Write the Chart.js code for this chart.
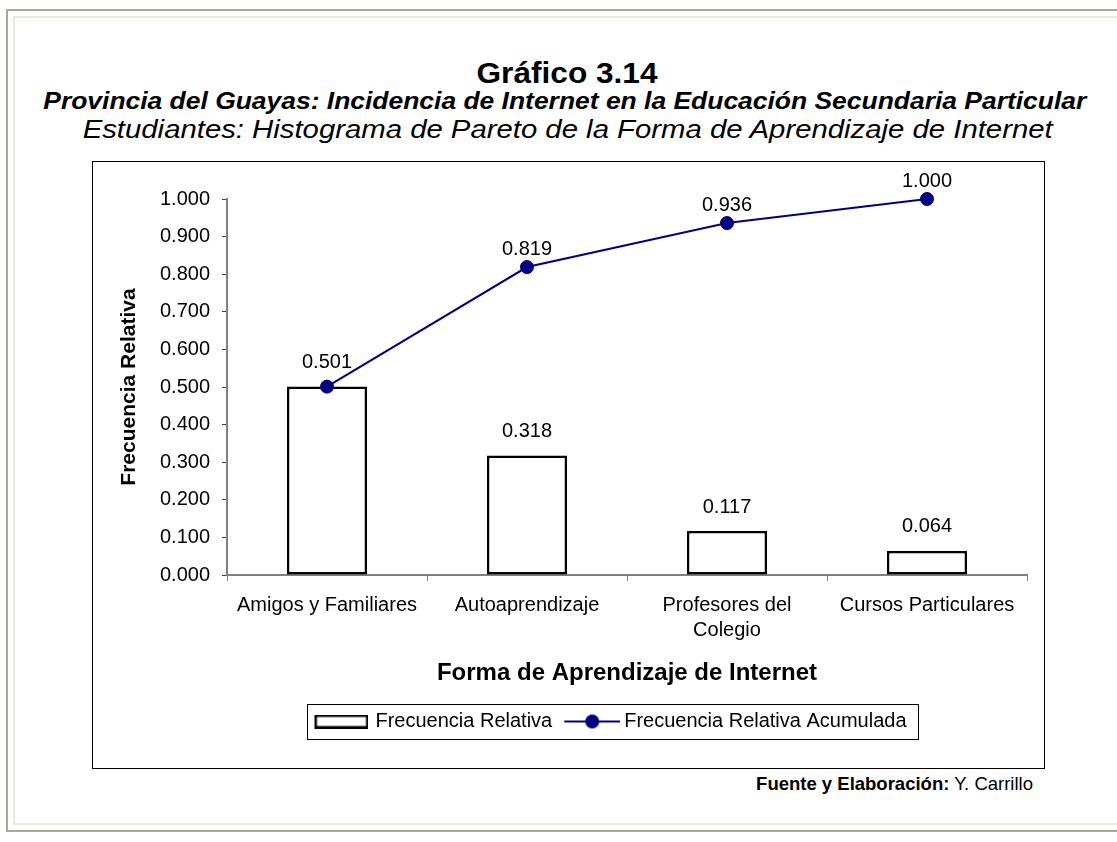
<!DOCTYPE html>
<html>
<head>
<meta charset="utf-8">
<script src="https://cdn.jsdelivr.net/npm/chart.js@4.4.1/dist/chart.umd.min.js"></script>
<style>
  body { margin: 0; width: 1117px; height: 842px; background: #fff; position: relative; overflow: hidden;
         font-family: "Liberation Sans", Arial, sans-serif; color: #000; }
  .frame-out { position: absolute; left: 6px; top: 9px; width: 1130px; height: 823px;
               border: 2px solid #aca899; border-right: none; box-sizing: border-box; }
  .frame-in { position: absolute; left: 13px; top: 16px; width: 1120px; height: 809px;
              border: 2px solid #ece9d8; border-right: none; box-sizing: border-box; }
  .ttl { position: absolute; white-space: nowrap; line-height: 1; transform-origin: center; }
  #t1 { font-size: 29px; font-weight: bold; top: 59px; }
  #t2 { font-size: 23px; font-weight: bold; font-style: italic; top: 90px; }
  #t3 { font-size: 25px; font-style: italic; top: 117px; }
  #box { position: absolute; left: 92px; top: 161px; width: 953px; height: 608px;
         border: 1px solid #000; box-sizing: border-box; background: #fff; }
  #chart { display: block; }
  #src { position: absolute; right: 84px; top: 775px; font-size: 18.5px; line-height: 1; white-space: nowrap; }
</style>
</head>
<body>
<div class="frame-out"></div>
<div class="frame-in"></div>
<span class="ttl" id="t1">Gráfico 3.14</span>
<span class="ttl" id="t2">Provincia del Guayas: Incidencia de Internet en la Educación Secundaria Particular</span>
<span class="ttl" id="t3">Estudiantes: Histograma de Pareto de la Forma de Aprendizaje de Internet</span>
<div id="box"><canvas id="chart" width="951" height="606"></canvas></div>
<div id="src"><b>Fuente y Elaboración:</b> Y. Carrillo</div>
<script>
// chart data
const categories = ['Amigos y Familiares', 'Autoaprendizaje', ['Profesores del', 'Colegio'], 'Cursos Particulares'];
const relFreq = [0.501, 0.318, 0.117, 0.064];
const cumFreq = [0.501, 0.819, 0.936, 1.000];
const yTickLabels = ['0.000', '0.100', '0.200', '0.300', '0.400', '0.500', '0.600', '0.700', '0.800', '0.900', '1.000'];

// fit the title lines to their width in the picture
function fitTitle(id, center, width) {
  const el = document.getElementById(id);
  const w = el.getBoundingClientRect().width;
  el.style.left = (center - w / 2) + 'px';
  el.style.transform = 'scaleX(' + (width / w) + ')';
}
fitTitle('t1', 567, 181);
fitTitle('t2', 565, 1043);
fitTitle('t3', 568, 970);

const FONT = '"Liberation Sans", Arial, sans-serif';
Chart.defaults.font.family = FONT;
Chart.defaults.color = '#000';

// legend swatches
const barSwatch = document.createElement('canvas');
barSwatch.width = 58; barSwatch.height = 14;
let c = barSwatch.getContext('2d');
c.strokeStyle = '#000'; c.lineWidth = 2.5;
c.strokeRect(5.25, 1.25, 51.5, 11.5);

const lineSwatch = document.createElement('canvas');
lineSwatch.width = 64; lineSwatch.height = 16;
c = lineSwatch.getContext('2d');
c.strokeStyle = '#000080'; c.lineWidth = 2;
c.beginPath(); c.moveTo(8, 8); c.lineTo(64, 8); c.stroke();
c.fillStyle = '#000080';
c.beginPath(); c.arc(36, 8, 7, 0, Math.PI * 2); c.fill();

// value labels over bars and points
const valueLabels = {
  id: 'valueLabels',
  afterDatasetsDraw(chart) {
    const ctx = chart.ctx;
    ctx.save();
    ctx.font = '20px ' + FONT;
    ctx.fillStyle = '#000';
    ctx.textAlign = 'center';
    ctx.textBaseline = 'middle';
    chart.getDatasetMeta(0).data.forEach((bar, i) => {
      ctx.fillText(relFreq[i].toFixed(3), bar.x, bar.y - 24);
    });
    chart.getDatasetMeta(1).data.forEach((pt, i) => {
      if (cumFreq[i] === relFreq[i]) return; // same spot as the bar label
      ctx.fillText(cumFreq[i].toFixed(3), pt.x, pt.y - 18);
    });
    ctx.restore();
  }
};

// move the legend under the plot and frame it
const legendBox = {
  id: 'legendBox',
  afterLayout(chart) {
    const lg = chart.legend;
    const h = lg.height;
    lg.left = 517 - 320;
    lg.right = 517 + 320;
    lg.top = 539.5;
    lg.bottom = lg.top + h;
  },
  afterDraw(chart) {
    const hb = chart.legend.legendHitBoxes;
    if (!hb.length) return;
    const last = hb[hb.length - 1];
    const x0 = Math.round(hb[0].left - 6) + 0.5;
    const x1 = Math.round(last.left + last.width + 11) + 0.5;
    const y0 = Math.round(hb[0].top - 7.5) + 0.5;
    const y1 = Math.round(hb[0].top + hb[0].height + 7.5) + 0.5;
    const ctx = chart.ctx;
    ctx.save();
    ctx.strokeStyle = '#000';
    ctx.lineWidth = 1;
    ctx.strokeRect(x0, y0, x1 - x0, y1 - y0);
    ctx.restore();
  }
};

const chart = new Chart(document.getElementById('chart').getContext('2d'), {
  type: 'bar',
  data: {
    labels: categories,
    datasets: [{
      type: 'bar',
      label: 'Frecuencia Relativa',
      data: relFreq,
      backgroundColor: '#fff',
      borderColor: '#000',
      borderWidth: 2.5,
      borderSkipped: false,
      barPercentage: 0.4,
      categoryPercentage: 1,
      order: 2
    }, {
      type: 'line',
      label: 'Frecuencia Relativa Acumulada',
      data: cumFreq,
      borderColor: '#000080',
      borderWidth: 2,
      pointRadius: 6.5,
      pointBackgroundColor: '#000080',
      pointBorderColor: '#000080',
      pointBorderWidth: 1,
      tension: 0,
      fill: false,
      clip: false,
      order: 1
    }]
  },
  options: {
    responsive: false,
    animation: false,
    layout: { padding: { left: 0, right: 17, top: 37, bottom: 13 } },
    scales: {
      x: {
        offset: true,
        grid: { offset: true, drawOnChartArea: false, tickLength: 6, color: '#808080' },
        border: { color: '#808080', width: 2 },
        ticks: { font: { size: 20, lineHeight: 1.25 }, padding: 12, maxRotation: 0, autoSkip: false, color: '#000' },
        title: { display: true, text: 'Forma de Aprendizaje de Internet', color: '#000',
                 font: { size: 24, weight: 'bold' }, padding: { top: 0, bottom: 27 } },
        afterFit(scale) { scale.height = 140; }
      },
      y: {
        min: 0,
        max: 1,
        grid: { drawOnChartArea: false, tickLength: 5, color: '#404040' },
        border: { color: '#808080', width: 2 },
        ticks: { stepSize: 0.1, autoSkip: false, padding: 12, font: { size: 20 }, color: '#000',
                 callback: (v, i) => yTickLabels[i] },
        title: { display: true, text: 'Frecuencia Relativa', color: '#000',
                 font: { size: 21, weight: 'bold' }, padding: { top: 24, bottom: 0 } },
        afterFit(scale) { scale.width = 134; }
      }
    },
    plugins: {
      tooltip: { enabled: false },
      legend: {
        position: 'bottom',
        labels: {
          usePointStyle: true,
          pointStyleWidth: 52,
          padding: 10,
          font: { size: 20 },
          color: '#000',
          generateLabels: (ch) => ch.data.datasets.map((ds, i) => ({
            text: ds.label,
            datasetIndex: i,
            pointStyle: i === 0 ? barSwatch : lineSwatch,
            fillStyle: 'transparent',
            strokeStyle: 'transparent',
            lineWidth: 0,
            hidden: false,
            fontColor: '#000'
          }))
        }
      }
    }
  },
  plugins: [valueLabels, legendBox]
});
</script>
</body>
</html>
